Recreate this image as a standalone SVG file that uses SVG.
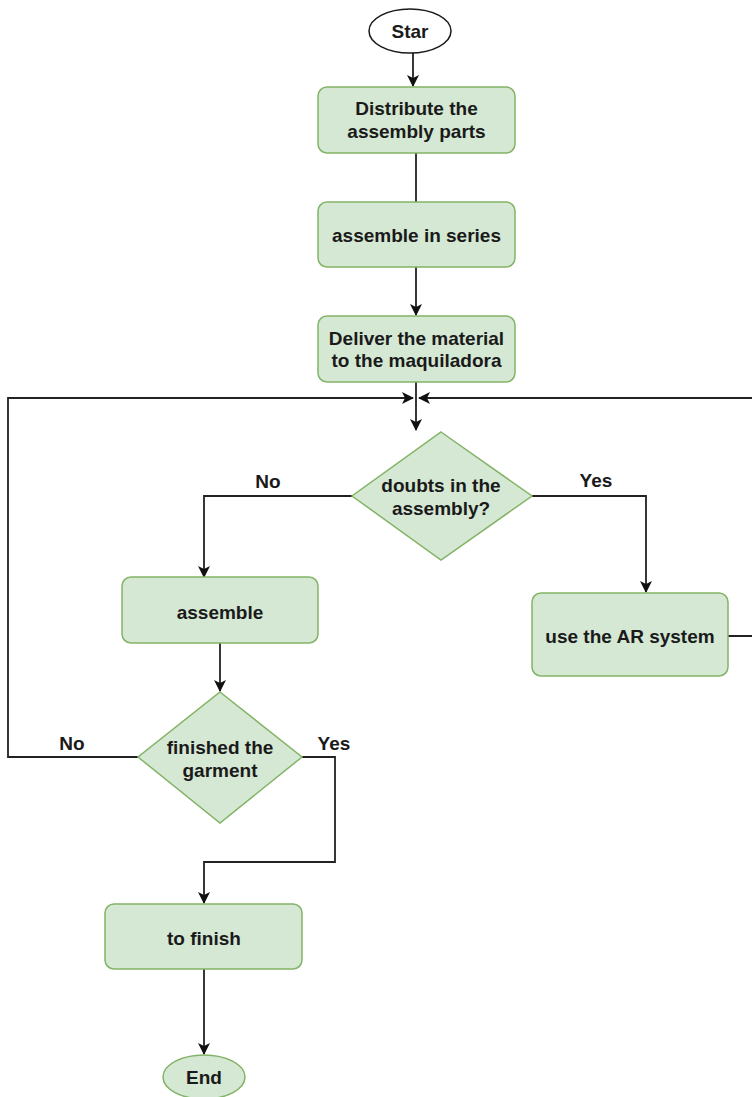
<svg xmlns="http://www.w3.org/2000/svg" width="752" height="1097" viewBox="0 0 752 1097">
  <defs>
    <style>
      .node { fill: #d5e8d4; stroke: #82b366; stroke-width: 1.5; }
      .start { fill: #ffffff; stroke: #1a1a1a; stroke-width: 1.5; }
      .t { font-family: "Liberation Sans", Arial, sans-serif; font-weight: bold; font-size: 19px; fill: #1a1a1a; text-anchor: middle; }
      .edge { fill: none; stroke: #222222; stroke-width: 1.8; }
    </style>
    <marker id="arr" viewBox="0 0 12 12" refX="11" refY="6" markerWidth="12" markerHeight="12" markerUnits="userSpaceOnUse" orient="auto">
      <path d="M0,0 L12,6 L0,12 L3,6 z" fill="#111111"/>
    </marker>
  </defs>
  <rect width="752" height="1097" fill="#ffffff"/>

  <g id="connectors">
    <path class="edge" d="M413,53 L413,86" marker-end="url(#arr)"/>
    <path class="edge" d="M416,153 L416,202"/>
    <path class="edge" d="M416,267 L416,315" marker-end="url(#arr)"/>
    <path class="edge" d="M416,382 L416,430" marker-end="url(#arr)"/>
    <path class="edge" d="M352,496 L204,496 L204,577" marker-end="url(#arr)"/>
    <path class="edge" d="M532,496 L646,496 L646,592" marker-end="url(#arr)"/>
    <path class="edge" d="M728,636 L760,636 L760,398 L419,398" marker-end="url(#arr)"/>
    <path class="edge" d="M220,643 L220,691" marker-end="url(#arr)"/>
    <path class="edge" d="M138,757 L8,757 L8,398 L413,398" marker-end="url(#arr)"/>
    <path class="edge" d="M302,757 L335,757 L335,862 L204,862 L204,903" marker-end="url(#arr)"/>
    <path class="edge" d="M204,969 L204,1054" marker-end="url(#arr)"/>
    <text class="t" x="268" y="488">No</text>
    <text class="t" x="596" y="487">Yes</text>
    <text class="t" x="72" y="750">No</text>
    <text class="t" x="334" y="750">Yes</text>
  </g>

  <g id="start">
    <ellipse class="start" cx="410" cy="31" rx="41" ry="22"/>
    <text class="t" x="410" y="38">Star</text>
  </g>
  <g id="distribute">
    <rect class="node" x="318" y="87" width="197" height="66" rx="9"/>
    <text class="t" x="416.5" y="115">Distribute the</text>
    <text class="t" x="416.5" y="138">assembly parts</text>
  </g>
  <g id="assemble-series">
    <rect class="node" x="318" y="202" width="197" height="65" rx="9"/>
    <text class="t" x="416.5" y="241.5">assemble in series</text>
  </g>
  <g id="deliver">
    <rect class="node" x="318" y="316" width="197" height="66" rx="9"/>
    <text class="t" x="416.5" y="345">Deliver the material</text>
    <text class="t" x="416.5" y="367">to the maquiladora</text>
  </g>
  <g id="doubts">
    <polygon class="node" points="441,432 532,496 441,560 352,496"/>
    <text class="t" x="441" y="492">doubts in the</text>
    <text class="t" x="441" y="515">assembly?</text>
  </g>
  <g id="ar-system">
    <rect class="node" x="532" y="593" width="196" height="83" rx="9"/>
    <text class="t" x="630" y="642.5">use the AR system</text>
  </g>
  <g id="assemble">
    <rect class="node" x="122" y="577" width="196" height="66" rx="9"/>
    <text class="t" x="220" y="618.5">assemble</text>
  </g>
  <g id="finished">
    <polygon class="node" points="220,692 302,757 220,823 138,757"/>
    <text class="t" x="220" y="754">finished the</text>
    <text class="t" x="220" y="777">garment</text>
  </g>
  <g id="to-finish">
    <rect class="node" x="105" y="904" width="197" height="65" rx="9"/>
    <text class="t" x="204" y="944.5">to finish</text>
  </g>
  <g id="end">
    <ellipse class="node" cx="204" cy="1077" rx="41" ry="22"/>
    <text class="t" x="204" y="1084">End</text>
  </g>
</svg>
